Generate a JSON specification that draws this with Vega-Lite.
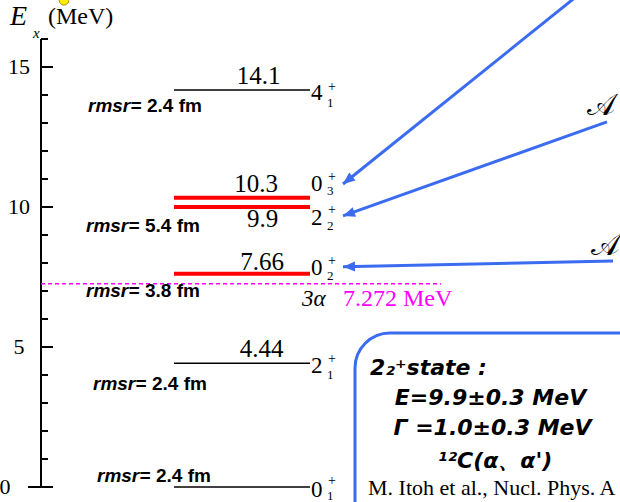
{
  "$schema": "https://vega.github.io/schema/vega-lite/v6.json",
  "width": 579,
  "height": 448,
  "autosize": {"type": "none"},
  "padding": {"left": 41, "top": 39, "right": 0, "bottom": 15},
  "background": "white",
  "config": {"view": {"stroke": null}},
  "datasets": {
    "axisLine": [{"y": 0, "y2": 16}],
    "majorTicks": [{"y": 5, "t": "5"}, {"y": 10, "t": "10"}, {"y": 15, "t": "15"}],
    "minorTicks": [{"y": 1}, {"y": 2}, {"y": 3}, {"y": 4}, {"y": 6}, {"y": 7}, {"y": 8}, {"y": 9}, {"y": 11}, {"y": 12}, {"y": 13}, {"y": 14}, {"y": 16}],
    "zeroLabel": [{"x": -36, "y": 0, "t": "0"}],
    "ytitle": [
      {"part": "E", "x": -31, "y": 16.5, "t": "E"},
      {"part": "sub", "x": -8, "y": 16.04, "t": "x"},
      {"part": "unit", "x": 7, "y": 16.54, "t": "(MeV)"}
    ],
    "marker": [{"x": 23, "y": 17.38}],
    "levels": [
      {"E": 14.18, "kind": "g"},
      {"E": 10.33, "kind": "c"},
      {"E": 10.0, "kind": "c"},
      {"E": 7.62, "kind": "c"},
      {"E": 4.42, "kind": "g"},
      {"E": 0.0, "kind": "g"}
    ],
    "energyLabels": [
      {"x": 217.5, "y": 14.39, "t": "14.1"},
      {"x": 215, "y": 10.54, "t": "10.3"},
      {"x": 221.5, "y": 9.29, "t": "9.9"},
      {"x": 221, "y": 7.75, "t": "7.66"},
      {"x": 220.5, "y": 4.64, "t": "4.44"}
    ],
    "spins": [
      {"J": "4", "n": "1", "yb": 13.82, "yp": 14.14, "ys": 13.57},
      {"J": "0", "n": "3", "yb": 10.57, "yp": 10.93, "ys": 10.43},
      {"J": "2", "n": "2", "yb": 9.36, "yp": 9.75, "ys": 9.18},
      {"J": "0", "n": "2", "yb": 7.57, "yp": 7.93, "ys": 7.39},
      {"J": "2", "n": "1", "yb": 4.07, "yp": 4.43, "ys": 3.86},
      {"J": "0", "n": "1", "yb": -0.36, "yp": 0.07, "ys": -0.46}
    ],
    "rmsr": [
      {"x": 47, "y": 13.4, "k": "rmsr=", "v": "2.4 fm"},
      {"x": 45, "y": 9.11, "k": "rmsr=", "v": "5.4 fm"},
      {"x": 45, "y": 6.79, "k": "rmsr=", "v": "3.8 fm"},
      {"x": 52, "y": 3.46, "k": "rmsr=", "v": "2.4 fm"},
      {"x": 56, "y": 0.18, "k": "rmsr=", "v": "2.4 fm"}
    ],
    "threshold": [{"E": 7.26, "x": 0, "x2": 400}],
    "thrAlpha": [{"x": 261, "y": 6.46, "t": "3α"}],
    "thrValue": [{"x": 302, "y": 6.46, "t": "7.272 MeV"}],
    "arrows": [
      {"id": 1, "x": 556, "y": 18.11, "x2": 302, "y2": 10.82},
      {"id": 2, "x": 566, "y": 13.04, "x2": 302, "y2": 9.68},
      {"id": 3, "x": 572, "y": 8.07, "x2": 302, "y2": 7.87}
    ],
    "alabels": [{"x": 574, "y": 13.29, "t": "𝒜"}, {"x": 578, "y": 8.29, "t": "𝒜"}],
    "box": [{"x": 314, "y": 5.5, "x2": 659, "y2": -2}],
    "boxTitle": [{"x": 329, "y": 4.0, "t": "2₂⁺state :"}],
    "boxLines": [
      {"x": 449.5, "y": 2.93, "t": "E=9.9±0.3 MeV"},
      {"x": 451.5, "y": 1.86, "t": "Γ =1.0±0.3 MeV"},
      {"x": 454, "y": 0.68, "t": "¹²C(α、α')"}
    ],
    "ref": [{"x": 327, "y": -0.29, "t": "M. Itoh et al., Nucl. Phys. A"}]
  },
  "layer": [
    {
      "data": {"name": "axisLine"},
      "mark": {"type": "rule", "color": "black", "strokeWidth": 2},
      "encoding": {
        "x": {"datum": 0, "type": "quantitative", "scale": {"domain": [0, 579], "nice": false, "zero": false}, "axis": null},
        "y": {"field": "y", "type": "quantitative", "scale": {"domain": [0, 16], "nice": false, "zero": false}, "axis": null},
        "y2": {"field": "y2"}
      }
    },
    {
      "data": {"name": "majorTicks"},
      "mark": {"type": "rule", "color": "black", "strokeWidth": 2},
      "encoding": {
        "x": {"datum": 0, "type": "quantitative", "axis": null},
        "x2": {"datum": 12},
        "y": {"field": "y", "type": "quantitative", "axis": null}
      }
    },
    {
      "data": {"name": "majorTicks"},
      "mark": {"type": "text", "align": "center", "baseline": "middle", "font": "Liberation Serif", "fontSize": 22, "color": "black"},
      "encoding": {
        "x": {"datum": -22, "type": "quantitative", "axis": null},
        "y": {"field": "y", "type": "quantitative", "axis": null},
        "text": {"field": "t"}
      }
    },
    {
      "data": {"name": "minorTicks"},
      "mark": {"type": "rule", "color": "black", "strokeWidth": 2},
      "encoding": {
        "x": {"datum": 0, "type": "quantitative", "axis": null},
        "x2": {"datum": 7},
        "y": {"field": "y", "type": "quantitative", "axis": null}
      }
    },
    {
      "data": {"name": "zeroLabel"},
      "mark": {"type": "rule", "color": "black", "strokeWidth": 2},
      "encoding": {
        "x": {"datum": -13, "type": "quantitative", "axis": null},
        "x2": {"datum": 12},
        "y": {"field": "y", "type": "quantitative", "axis": null}
      }
    },
    {
      "data": {"name": "zeroLabel"},
      "mark": {"type": "text", "align": "center", "baseline": "middle", "font": "Liberation Serif", "fontSize": 22, "color": "black"},
      "encoding": {
        "x": {"field": "x", "type": "quantitative", "axis": null},
        "y": {"field": "y", "type": "quantitative", "axis": null},
        "text": {"field": "t"}
      }
    },
    {
      "data": {"name": "ytitle"},
      "transform": [{"filter": "datum.part === 'E'"}],
      "mark": {"type": "text", "align": "left", "baseline": "alphabetic", "font": "Liberation Serif", "fontStyle": "italic", "fontSize": 28, "color": "black"},
      "encoding": {
        "x": {"field": "x", "type": "quantitative", "axis": null},
        "y": {"field": "y", "type": "quantitative", "axis": null},
        "text": {"field": "t"}
      }
    },
    {
      "data": {"name": "ytitle"},
      "transform": [{"filter": "datum.part === 'sub'"}],
      "mark": {"type": "text", "align": "left", "baseline": "alphabetic", "font": "Liberation Serif", "fontStyle": "italic", "fontSize": 15, "color": "black"},
      "encoding": {
        "x": {"field": "x", "type": "quantitative", "axis": null},
        "y": {"field": "y", "type": "quantitative", "axis": null},
        "text": {"field": "t"}
      }
    },
    {
      "data": {"name": "ytitle"},
      "transform": [{"filter": "datum.part === 'unit'"}],
      "mark": {"type": "text", "align": "left", "baseline": "alphabetic", "font": "Liberation Serif", "fontSize": 24, "color": "black"},
      "encoding": {
        "x": {"field": "x", "type": "quantitative", "axis": null},
        "y": {"field": "y", "type": "quantitative", "axis": null},
        "text": {"field": "t"}
      }
    },
    {
      "data": {"name": "marker"},
      "mark": {"type": "point", "shape": "circle", "filled": true, "color": "#ffee00", "stroke": "#b09000", "strokeWidth": 1, "opacity": 1, "size": 90},
      "encoding": {
        "x": {"field": "x", "type": "quantitative", "axis": null},
        "y": {"field": "y", "type": "quantitative", "axis": null}
      }
    },
    {
      "data": {"name": "threshold"},
      "mark": {"type": "rule", "color": "#ff00ff", "strokeWidth": 1.5, "strokeDash": [4, 3]},
      "encoding": {
        "x": {"field": "x", "type": "quantitative", "axis": null},
        "x2": {"field": "x2"},
        "y": {"field": "E", "type": "quantitative", "axis": null}
      }
    },
    {
      "data": {"name": "levels"},
      "mark": {"type": "rule"},
      "encoding": {
        "x": {"datum": 133, "type": "quantitative", "axis": null},
        "x2": {"datum": 269},
        "y": {"field": "E", "type": "quantitative", "axis": null},
        "color": {"field": "kind", "type": "nominal", "scale": {"domain": ["g", "c"], "range": ["black", "#ff0000"]}, "legend": null},
        "strokeWidth": {"field": "kind", "type": "nominal", "scale": {"domain": ["g", "c"], "range": [1.6, 4]}, "legend": null}
      }
    },
    {
      "data": {"name": "energyLabels"},
      "mark": {"type": "text", "align": "center", "baseline": "alphabetic", "font": "Liberation Serif", "fontSize": 25, "color": "black"},
      "encoding": {
        "x": {"field": "x", "type": "quantitative", "axis": null},
        "y": {"field": "y", "type": "quantitative", "axis": null},
        "text": {"field": "t"}
      }
    },
    {
      "data": {"name": "spins"},
      "mark": {"type": "text", "align": "left", "baseline": "alphabetic", "font": "Liberation Serif", "fontSize": 23, "color": "black"},
      "encoding": {
        "x": {"datum": 270, "type": "quantitative", "axis": null},
        "y": {"field": "yb", "type": "quantitative", "axis": null},
        "text": {"field": "J"}
      }
    },
    {
      "data": {"name": "spins"},
      "mark": {"type": "text", "align": "left", "baseline": "alphabetic", "font": "Liberation Serif", "fontSize": 14, "color": "black", "text": "+"},
      "encoding": {
        "x": {"datum": 287, "type": "quantitative", "axis": null},
        "y": {"field": "yp", "type": "quantitative", "axis": null}
      }
    },
    {
      "data": {"name": "spins"},
      "mark": {"type": "text", "align": "left", "baseline": "alphabetic", "font": "Liberation Serif", "fontSize": 13, "color": "black"},
      "encoding": {
        "x": {"datum": 286, "type": "quantitative", "axis": null},
        "y": {"field": "ys", "type": "quantitative", "axis": null},
        "text": {"field": "n"}
      }
    },
    {
      "data": {"name": "rmsr"},
      "mark": {"type": "text", "align": "left", "baseline": "alphabetic", "font": "Liberation Sans", "fontSize": 19, "fontWeight": "bold", "fontStyle": "italic", "color": "black"},
      "encoding": {
        "x": {"field": "x", "type": "quantitative", "axis": null},
        "y": {"field": "y", "type": "quantitative", "axis": null},
        "text": {"field": "k"}
      }
    },
    {
      "data": {"name": "rmsr"},
      "mark": {"type": "text", "align": "left", "baseline": "alphabetic", "font": "Liberation Sans", "fontSize": 19, "fontWeight": "bold", "color": "black", "dx": 59},
      "encoding": {
        "x": {"field": "x", "type": "quantitative", "axis": null},
        "y": {"field": "y", "type": "quantitative", "axis": null},
        "text": {"field": "v"}
      }
    },
    {
      "data": {"name": "thrAlpha"},
      "mark": {"type": "text", "align": "left", "baseline": "alphabetic", "font": "Liberation Serif", "fontStyle": "italic", "fontSize": 23, "color": "black"},
      "encoding": {
        "x": {"field": "x", "type": "quantitative", "axis": null},
        "y": {"field": "y", "type": "quantitative", "axis": null},
        "text": {"field": "t"}
      }
    },
    {
      "data": {"name": "thrValue"},
      "mark": {"type": "text", "align": "left", "baseline": "alphabetic", "font": "Liberation Serif", "fontSize": 24, "color": "#ff00ff"},
      "encoding": {
        "x": {"field": "x", "type": "quantitative", "axis": null},
        "y": {"field": "y", "type": "quantitative", "axis": null},
        "text": {"field": "t"}
      }
    },
    {
      "data": {"name": "arrows"},
      "mark": {"type": "rule", "color": "#3b6cf0", "strokeWidth": 3},
      "encoding": {
        "x": {"field": "x", "type": "quantitative", "axis": null},
        "y": {"field": "y", "type": "quantitative", "axis": null},
        "x2": {"field": "x2"},
        "y2": {"field": "y2"}
      }
    },
    {
      "data": {"name": "arrows"},
      "transform": [{"filter": "datum.id === 1"}],
      "mark": {"type": "point", "shape": "M0,0L-1,2.4L1,2.4Z", "filled": true, "color": "#3b6cf0", "opacity": 1, "size": 100, "angle": 231.2},
      "encoding": {
        "x": {"field": "x2", "type": "quantitative", "axis": null},
        "y": {"field": "y2", "type": "quantitative", "axis": null}
      }
    },
    {
      "data": {"name": "arrows"},
      "transform": [{"filter": "datum.id === 2"}],
      "mark": {"type": "point", "shape": "M0,0L-1,2.4L1,2.4Z", "filled": true, "color": "#3b6cf0", "opacity": 1, "size": 100, "angle": 250.4},
      "encoding": {
        "x": {"field": "x2", "type": "quantitative", "axis": null},
        "y": {"field": "y2", "type": "quantitative", "axis": null}
      }
    },
    {
      "data": {"name": "arrows"},
      "transform": [{"filter": "datum.id === 3"}],
      "mark": {"type": "point", "shape": "M0,0L-1,2.4L1,2.4Z", "filled": true, "color": "#3b6cf0", "opacity": 1, "size": 100, "angle": 268.9},
      "encoding": {
        "x": {"field": "x2", "type": "quantitative", "axis": null},
        "y": {"field": "y2", "type": "quantitative", "axis": null}
      }
    },
    {
      "data": {"name": "alabels"},
      "mark": {"type": "text", "align": "right", "baseline": "alphabetic", "font": "DejaVu Sans", "fontSize": 30, "color": "black"},
      "encoding": {
        "x": {"field": "x", "type": "quantitative", "axis": null},
        "y": {"field": "y", "type": "quantitative", "axis": null},
        "text": {"field": "t"}
      }
    },
    {
      "data": {"name": "box"},
      "mark": {"type": "rect", "fill": "white", "stroke": "#3b6cf0", "strokeWidth": 3, "cornerRadius": 35},
      "encoding": {
        "x": {"field": "x", "type": "quantitative", "axis": null},
        "x2": {"field": "x2"},
        "y": {"field": "y", "type": "quantitative", "axis": null},
        "y2": {"field": "y2"}
      }
    },
    {
      "data": {"name": "boxTitle"},
      "mark": {"type": "text", "align": "left", "baseline": "alphabetic", "font": "DejaVu Sans", "fontWeight": "bold", "fontStyle": "italic", "fontSize": 22, "color": "black"},
      "encoding": {
        "x": {"field": "x", "type": "quantitative", "axis": null},
        "y": {"field": "y", "type": "quantitative", "axis": null},
        "text": {"field": "t"}
      }
    },
    {
      "data": {"name": "boxLines"},
      "mark": {"type": "text", "align": "center", "baseline": "alphabetic", "font": "DejaVu Sans", "fontWeight": "bold", "fontStyle": "italic", "fontSize": 22, "color": "black"},
      "encoding": {
        "x": {"field": "x", "type": "quantitative", "axis": null},
        "y": {"field": "y", "type": "quantitative", "axis": null},
        "text": {"field": "t"}
      }
    },
    {
      "data": {"name": "ref"},
      "mark": {"type": "text", "align": "left", "baseline": "alphabetic", "font": "Liberation Serif", "fontSize": 22, "color": "black"},
      "encoding": {
        "x": {"field": "x", "type": "quantitative", "axis": null},
        "y": {"field": "y", "type": "quantitative", "axis": null},
        "text": {"field": "t"}
      }
    }
  ]
}
